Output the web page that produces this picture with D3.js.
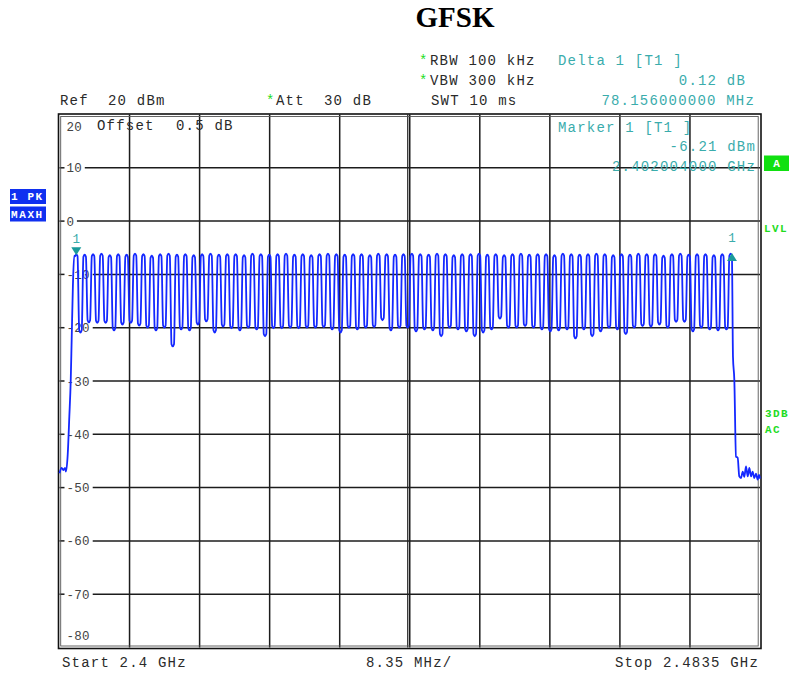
<!DOCTYPE html>
<html>
<head>
<meta charset="utf-8">
<script src="https://cdn.jsdelivr.net/npm/d3@7"></script>
<style>
  html, body { margin: 0; padding: 0; background: #fff; }
  svg text { white-space: pre; }
</style>
</head>
<body>
<script>
// ---------------- DATA ----------------
const channelMHz = [2402,2403,2404,2405,2406,2407,2408,2409,2410,2411,
  2412,2413,2414,2415,2416,2417,2418,2419,2420,2421,
  2422,2423,2424,2425,2426,2427,2428,2429,2430,2431,
  2432,2433,2434,2435,2436,2437,2438,2439,2440,2441,
  2442,2443,2444,2445,2446,2447,2448,2449,2450,2451,
  2452,2453,2454,2455,2456,2457,2458,2459,2460,2461,
  2462,2463,2464,2465,2466,2467,2468,2469,2470,2471,
  2472,2473,2474,2475,2476,2477,2478,2479,2480];
const peakDbm = [-6.21,-6.3,-6.2,-6.1,-6.4,-6.2,-6.3,-6.1,-6.2,-6.5,
  -6.2,-6.1,-6.3,-6.2,-6.4,-6.2,-6.1,-6.3,-6.2,-6.2,
  -6.4,-6.1,-6.2,-6.3,-6.2,-6.1,-6.3,-6.2,-6.4,-6.2,
  -6.1,-6.2,-6.3,-6.2,-6.2,-6.4,-6.1,-6.2,-6.3,-6.2,
  -6.1,-6.2,-6.3,-6.1,-6.2,-6.4,-6.2,-6.2,-6.1,-6.3,
  -6.2,-6.4,-6.2,-6.1,-6.3,-6.2,-6.2,-6.4,-6.1,-6.2,
  -6.3,-6.2,-6.1,-6.2,-6.4,-6.2,-6.3,-6.1,-6.2,-6.2,
  -6.5,-6.2,-6.1,-6.3,-6.2,-6.2,-6.4,-6.2,-6.09];
const troughDbm = [-20.9,-19.0,-19.1,-19.1,-20.5,-19.4,-19.1,-19.6,-20.0,-20.5,
  -20.0,-23.5,-20.3,-20.5,-19.4,-18.8,-20.9,-19.8,-20.1,-20.5,
  -20.0,-20.3,-21.6,-20.1,-20.1,-20.0,-20.1,-20.0,-20.0,-19.9,
  -20.3,-20.9,-20.0,-20.3,-20.0,-19.9,-18.6,-20.5,-20.0,-20.0,
  -20.7,-20.3,-20.5,-21.6,-20.0,-20.3,-20.7,-21.6,-20.9,-20.3,
  -18.3,-20.0,-20.0,-19.7,-20.0,-20.3,-20.7,-20.5,-20.3,-22.0,
  -20.3,-21.6,-20.7,-20.0,-20.3,-21.2,-20.0,-19.7,-19.8,-19.4,
  -20.0,-18.9,-18.9,-20.7,-20.0,-20.3,-20.5,-20.3];
const leftSkirt = [[2400.0,-47.3],[2400.26,-46.3],[2400.45,-46.7],[2400.66,-46.3],[2400.77,-47.0],
  [2400.98,-43.8],[2401.17,-36.7],[2401.34,-29.8],[2401.45,-22.3],[2401.6,-12.0],[2401.75,-6.5]];
const rightSkirt = [[2480.28,-25.5],[2480.44,-29.8],[2480.64,-44.2],[2480.84,-44.4],[2481.03,-47.9],
  [2481.23,-48.2],[2481.44,-47.0],[2481.63,-48.0],[2481.83,-46.0],[2482.04,-47.9],[2482.23,-46.3],
  [2482.43,-47.9],[2482.62,-47.0],[2482.82,-48.2],[2483.02,-47.4],[2483.22,-48.5],[2483.38,-47.6],[2483.5,-48.3]];
const gridDb = [10, 0, -10, -20, -30, -40, -50, -60, -70];
const gridLabels = ["10", "0", "-10", "-20", "-30", "-40", "-50", "-60", "-70"];
const xDivMHz = [2408.35, 2416.7, 2425.05, 2433.4, 2441.75, 2450.1, 2458.45, 2466.8, 2475.15];
const markers = [{f: 2402.004, db: -6.21, dir: "down"}, {f: 2480.16, db: -6.09, dir: "up"}];

// ---------------- SETUP ----------------
const W = 789, H = 673;
const L = 59.5, R = 760, T = 114.5, B = 647.5;
const x = d3.scaleLinear().domain([2400, 2483.5]).range([L, R]);
const y = d3.scaleLinear().domain([-80, 20]).range([B, T]);

const svg = d3.select("body").append("svg").attr("width", W).attr("height", H);
const MONO = "'Liberation Mono', 'Courier New', monospace";
const TEAL = "#3aacac", GREEN = "#1fdc1f", INK = "#2a2a2a", BLUE = "#1428ff";

function text(s, px, py, o = {}) {
  return svg.append("text").attr("x", px).attr("y", py).text(s)
    .attr("font-family", o.family || MONO)
    .attr("font-size", o.size || 14)
    .attr("letter-spacing", o.ls !== undefined ? o.ls : 1.2)
    .attr("font-weight", o.weight || "normal")
    .attr("text-anchor", o.anchor || "start")
    .attr("fill", o.fill || INK);
}

// Title
text("GFSK", 455, 27, {family: "'Liberation Serif', 'Times New Roman', serif", size: 29, weight: "bold", anchor: "middle", ls: 0, fill: "#000"});

// Header
text("*", 419, 65, {fill: GREEN});
text("RBW 100 kHz", 430, 65);
text("*", 419, 85, {fill: GREEN});
text("VBW 300 kHz", 430, 85);
text("Ref  20 dBm", 60, 105);
text("*", 266, 105, {fill: GREEN});
text("Att  30 dB", 276, 105);
text("SWT 10 ms", 431, 105);
text("Delta 1 [T1 ]", 558, 65, {fill: TEAL});
text("0.12 dB", 746, 85, {fill: TEAL, anchor: "end"});
text("78.156000000 MHz", 755, 105, {fill: TEAL, anchor: "end"});

// Grid
const grid = svg.append("g");
grid.selectAll("line.v").data(xDivMHz).join("line")
  .attr("x1", d => x(d)).attr("x2", d => x(d))
  .attr("y1", T).attr("y2", B)
  .attr("stroke", "#1c1c1c").attr("stroke-width", 1.5);
// center double line
grid.append("line").attr("x1", x(2441.75) - 2).attr("x2", x(2441.75) - 2)
  .attr("y1", T).attr("y2", B).attr("stroke", "#1c1c1c").attr("stroke-width", 1.2);

// Horizontal grid with labels
const LBL = {size: 12.5, ls: 0.2, fill: "#444"};
const labelG = svg.append("g");
function tickLabel(s, py) {
  return labelG.append("text").attr("x", 66.5).attr("y", py).text(s)
    .attr("font-family", MONO).attr("font-size", LBL.size).attr("letter-spacing", LBL.ls).attr("fill", LBL.fill);
}
gridDb.forEach((v, i) => {
  const yy = y(v);
  const t = tickLabel(gridLabels[i], yy + 4.5);
  const tw = t.node().getComputedTextLength() + LBL.ls * gridLabels[i].length;
  grid.append("line").attr("x1", L).attr("x2", 64.5).attr("y1", yy).attr("y2", yy)
    .attr("stroke", "#1c1c1c").attr("stroke-width", 1.5);
  grid.append("line").attr("x1", 66.5 + tw + 2.5).attr("x2", R).attr("y1", yy).attr("y2", yy)
    .attr("stroke", "#1c1c1c").attr("stroke-width", 1.5);
});
tickLabel("20", y(20) + 16);
tickLabel("-80", y(-80) - 8);

// Frame (double)
svg.append("rect").attr("x", L - 1).attr("y", T - 0.5).attr("width", R - L + 2).attr("height", B - T + 1.5)
  .attr("fill", "none").attr("stroke", "#111").attr("stroke-width", 1.6);
svg.append("rect").attr("x", L + 1.2).attr("y", T + 2).attr("width", R - L - 3).attr("height", B - T - 3.5)
  .attr("fill", "none").attr("stroke", "#555").attr("stroke-width", 0.9);

// Inside texts
text("Offset", 97, 130);
text("0.5 dB", 176, 130);
text("Marker 1 [T1 ]", 558, 132, {fill: TEAL});
text("-6.21 dBm", 756, 151, {fill: TEAL, anchor: "end"});

// Trace
const pts = leftSkirt.slice();
channelMHz.forEach((f, i) => {
  const p = peakDbm[i];
  pts.push([f - 0.15, p - 0.4], [f, p], [f + 0.15, p - 0.4]);
  if (i < troughDbm.length) {
    const t = troughDbm[i];
    pts.push([f + 0.35, t + 0.4], [f + 0.5, t], [f + 0.65, t + 0.4]);
  }
});
rightSkirt.forEach(d => pts.push(d));
svg.append("path").datum(pts)
  .attr("d", d3.line().x(d => x(d[0])).y(d => y(d[1])).curve(d3.curveMonotoneX))
  .attr("fill", "none").attr("stroke", BLUE).attr("stroke-width", 1.8).attr("stroke-linejoin", "round");

// text drawn over trace in reference
text("2.402004000 GHz", 756, 171, {fill: TEAL, anchor: "end"});

// Markers
markers.forEach(m => {
  const mx = x(m.f);
  if (m.dir === "down") {
    const top = y(m.db) - 7;
    svg.append("path").attr("d", `M${mx - 5},${top} L${mx + 5},${top} L${mx},${top + 8} Z`).attr("fill", "#1a9a9a");
    text("1", mx, top - 4, {fill: TEAL, anchor: "middle", size: 12.5, ls: 0});
  } else {
    const apex = y(m.db) - 0.5;
    svg.append("path").attr("d", `M${mx},${apex} L${mx + 5},${apex + 8} L${mx - 5},${apex + 8} Z`).attr("fill", "#1a9a9a");
    text("1", mx, 242, {fill: TEAL, anchor: "middle", size: 12.5, ls: 0});
  }
});

// Left side boxes
svg.append("rect").attr("x", 10).attr("y", 189).attr("width", 36).attr("height", 15).attr("fill", "#1030f0");
svg.append("rect").attr("x", 10).attr("y", 206.5).attr("width", 36).attr("height", 15).attr("fill", "#1030f0");
text("1 PK", 11, 200, {fill: "#fff", weight: "bold", size: 11, ls: 1.6});
text("MAXH", 11, 218, {fill: "#fff", weight: "bold", size: 11, ls: 1.6});

// Right side
svg.append("rect").attr("x", 764).attr("y", 155.5).attr("width", 25).attr("height", 15.5).attr("fill", "#10e010");
text("A", 776.5, 167, {fill: "#fff", weight: "bold", size: 11, ls: 0, anchor: "middle"});
text("LVL", 764, 232, {fill: GREEN, weight: "bold", size: 11, ls: 1.4});
text("3DB", 765, 417, {fill: GREEN, weight: "bold", size: 11, ls: 1.4});
text("AC", 765, 433, {fill: GREEN, weight: "bold", size: 11, ls: 1.4});

// Bottom
text("Start 2.4 GHz", 62, 667);
text("8.35 MHz/", 366, 667);
text("Stop 2.4835 GHz", 759, 667, {anchor: "end"});
</script>
</body>
</html>
